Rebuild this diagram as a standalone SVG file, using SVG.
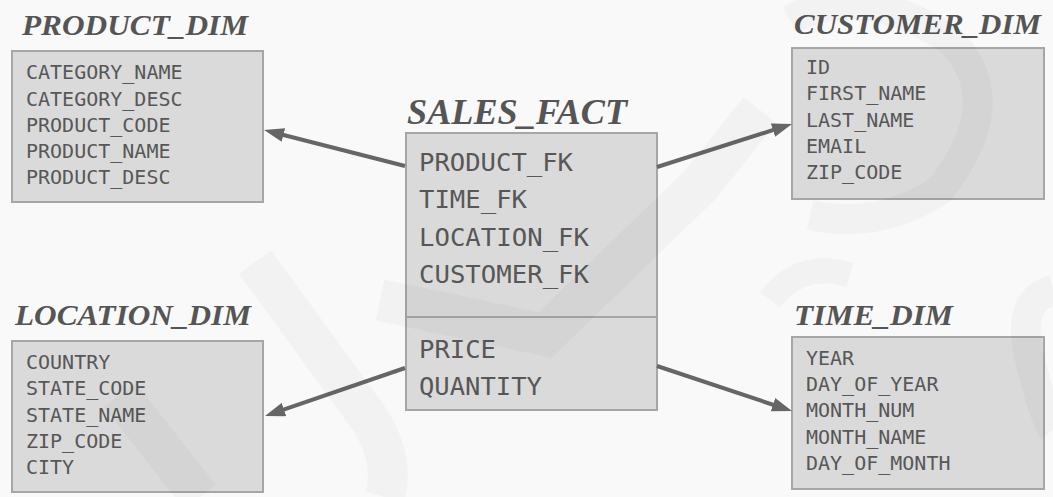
<svg xmlns="http://www.w3.org/2000/svg" width="1053" height="497" viewBox="0 0 1053 497">
<style>
.bg{fill:#f9f9f9}
.box{fill:#dadada;stroke:#a6a6a6;stroke-width:2}
.title{font-family:"Liberation Serif","Times New Roman",serif;font-weight:bold;font-style:italic;font-size:30px;fill:#555}
.item{font-family:"DejaVu Sans Mono","Liberation Mono",monospace;font-size:20px;fill:#575757}
.fitem{font-family:"DejaVu Sans Mono","Liberation Mono",monospace;font-size:25px;fill:#575757}
.conn{stroke:#666;stroke-width:4;fill:none;marker-end:url(#arr)}
.wm{fill:none;stroke:#000;stroke-opacity:0.028}
</style>
<defs>
<marker id="arr" viewBox="0 0 20 14" markerWidth="20" markerHeight="14" refX="12" refY="7" markerUnits="userSpaceOnUse" orient="auto">
<path d="M0,0 L20,7 L0,14 z" fill="#666"/>
</marker>
</defs>
<rect class="bg" x="0" y="0" width="1053" height="497"/>

<g id="product_dim">
<text class="title" x="22" y="35" textLength="226" lengthAdjust="spacingAndGlyphs">PRODUCT_DIM</text>
<rect class="box" x="12" y="51" width="251" height="151"/>
<text class="item" x="26" y="79">CATEGORY_NAME</text>
<text class="item" x="26" y="106">CATEGORY_DESC</text>
<text class="item" x="26" y="132">PRODUCT_CODE</text>
<text class="item" x="26" y="158">PRODUCT_NAME</text>
<text class="item" x="26" y="184">PRODUCT_DESC</text>
</g>

<g id="customer_dim">
<text class="title" x="794" y="34" textLength="247" lengthAdjust="spacingAndGlyphs">CUSTOMER_DIM</text>
<rect class="box" x="792" y="48" width="252" height="151"/>
<text class="item" x="806" y="74">ID</text>
<text class="item" x="806" y="100">FIRST_NAME</text>
<text class="item" x="806" y="127">LAST_NAME</text>
<text class="item" x="806" y="153">EMAIL</text>
<text class="item" x="806" y="179">ZIP_CODE</text>
</g>

<g id="sales_fact">
<text class="title" x="407" y="124" style="font-size:36px" textLength="220" lengthAdjust="spacingAndGlyphs">SALES_FACT</text>
<rect class="box" x="406" y="133" width="251" height="277"/>
<line x1="406" y1="317" x2="657" y2="317" stroke="#a6a6a6" stroke-width="2"/>
<text class="fitem" x="419" y="171" textLength="154" lengthAdjust="spacingAndGlyphs">PRODUCT_FK</text>
<text class="fitem" x="419" y="208" textLength="108" lengthAdjust="spacingAndGlyphs">TIME_FK</text>
<text class="fitem" x="419" y="246" textLength="170" lengthAdjust="spacingAndGlyphs">LOCATION_FK</text>
<text class="fitem" x="419" y="283" textLength="170" lengthAdjust="spacingAndGlyphs">CUSTOMER_FK</text>
<text class="fitem" x="419" y="358" textLength="77" lengthAdjust="spacingAndGlyphs">PRICE</text>
<text class="fitem" x="419" y="395" textLength="123" lengthAdjust="spacingAndGlyphs">QUANTITY</text>
</g>

<g id="location_dim">
<text class="title" x="15" y="325" textLength="236" lengthAdjust="spacingAndGlyphs">LOCATION_DIM</text>
<rect class="box" x="12" y="341" width="251" height="151"/>
<text class="item" x="26" y="369">COUNTRY</text>
<text class="item" x="26" y="395">STATE_CODE</text>
<text class="item" x="26" y="422">STATE_NAME</text>
<text class="item" x="26" y="448">ZIP_CODE</text>
<text class="item" x="26" y="474">CITY</text>
</g>

<g id="time_dim">
<text class="title" x="794" y="325" textLength="159" lengthAdjust="spacingAndGlyphs">TIME_DIM</text>
<rect class="box" x="792" y="337" width="252" height="152"/>
<text class="item" x="806" y="365">YEAR</text>
<text class="item" x="806" y="391">DAY_OF_YEAR</text>
<text class="item" x="806" y="417">MONTH_NUM</text>
<text class="item" x="806" y="444">MONTH_NAME</text>
<text class="item" x="806" y="470">DAY_OF_MONTH</text>
</g>

<g id="connectors">
<line class="conn" x1="405" y1="166" x2="271.8" y2="132"/>
<line class="conn" x1="657" y1="167" x2="784.4" y2="126.4"/>
<line class="conn" x1="405" y1="368" x2="272.6" y2="413.4"/>
<line class="conn" x1="657" y1="366" x2="784.4" y2="408.5"/>
</g>

<g id="watermark">
<polyline class="wm" points="380,300 545,335 700,185 760,110" stroke-width="42" stroke-linejoin="miter"/>
<path class="wm" d="M255,262 L370,420 Q395,460 385,497" stroke-width="40"/>
<path class="wm" d="M120,395 L200,497" stroke-width="40"/>
<path class="wm" d="M790,20 Q860,-20 950,40 Q1010,100 940,190 Q880,230 810,215" stroke-width="30"/>
<path class="wm" d="M1053,290 Q1015,300 1030,360 Q1045,420 1053,430" stroke-width="30"/>
<path class="wm" d="M770,300 Q800,260 850,275" stroke-width="25"/>
</g>
</svg>
